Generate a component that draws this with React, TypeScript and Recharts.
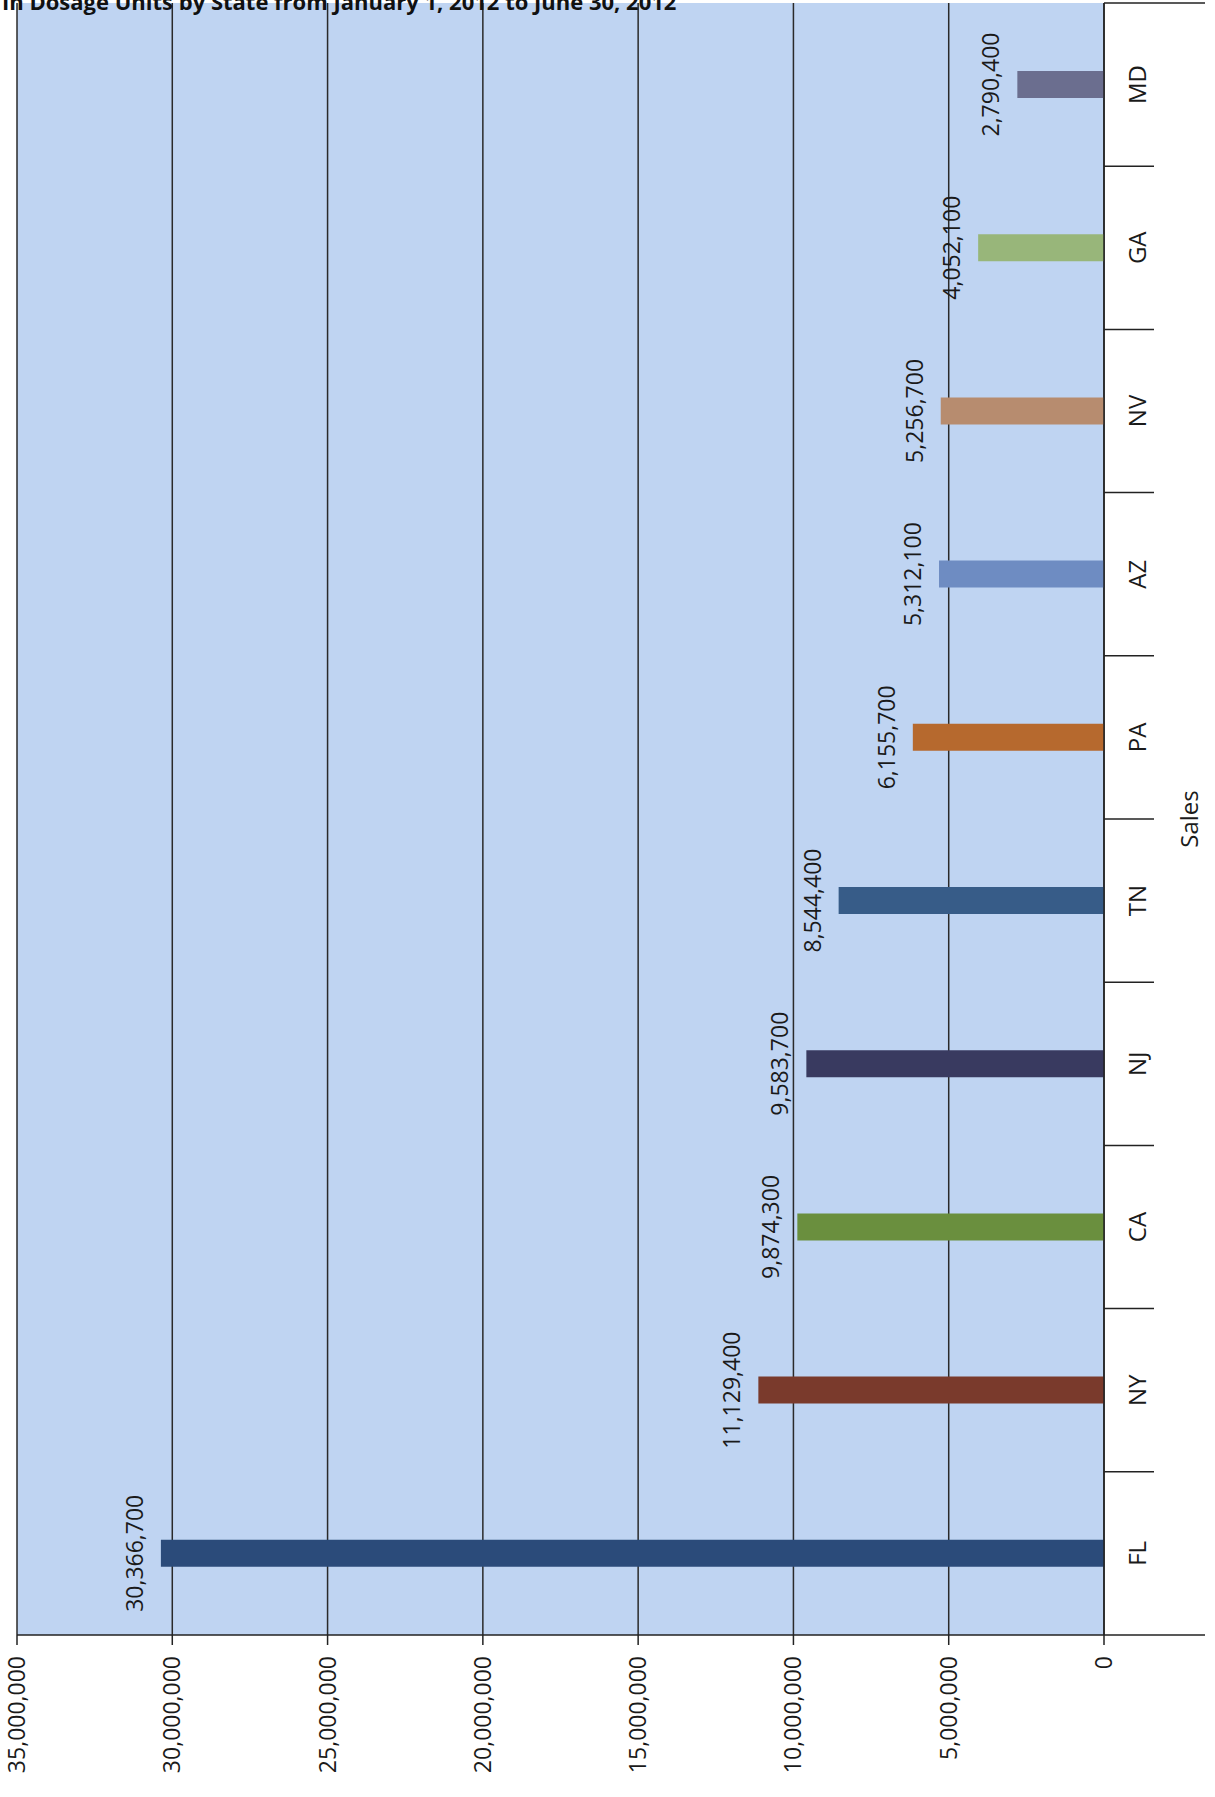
import React from 'react';
import { BarChart, Bar, XAxis, YAxis, CartesianGrid, Cell, LabelList, Label } from 'recharts';

// data (FL at the bottom, MD at the top)
const states = ['FL', 'NY', 'CA', 'NJ', 'TN', 'PA', 'AZ', 'NV', 'GA', 'MD'];
const units = [30366700, 11129400, 9874300, 9583700, 8544400, 6155700, 5312100, 5256700, 4052100, 2790400];
const barColors = ['#2b4b7a', '#7a3a2c', '#6a8f3e', '#393a60', '#375c88', '#b6692e', '#6e8cc2', '#b78c6f', '#98b67a', '#6b6e8f'];
const valueTicks = [0, 5000000, 10000000, 15000000, 20000000, 25000000, 30000000, 35000000];

const title = 'In Dosage Units by State from January 1, 2012 to June 30, 2012';
const axisTitle = 'Sales';

const W = 1215;
const H = 1797;
const PLOT_TOP = 3;
const PLOT_LEFT = 17;
const Y_AXIS_W = 111;
const X_AXIS_H = 162;
const AXIS_X = W - Y_AXIS_W;
const BAND = (H - X_AXIS_H - PLOT_TOP) / states.length;
const FONT = '"Open Sans", "DejaVu Sans", sans-serif';

const data = states.map((s, i) => ({ state: s, units: units[i] }));
const fmt = (v: number) => v.toLocaleString('en-US');

const ValueTick = (props: any) => {
  const { x, y, payload } = props;
  return (
    <g transform={`translate(${x},${y}) rotate(-90)`}>
      <text x={0} y={0} dy="0.35em" textAnchor="end" fontSize={23} fontFamily={FONT} fill="#1a1a1a">
        {fmt(payload.value)}
      </text>
    </g>
  );
};

const StateTick = (props: any) => {
  const { y, payload, index } = props;
  const isLast = index === states.length - 1;
  return (
    <g>
      <line x1={AXIS_X} x2={AXIS_X + (isLast ? 101 : 50)} y1={y - BAND / 2} y2={y - BAND / 2} stroke="#222" strokeWidth={1.5} />
      {index === 0 && (
        <line x1={AXIS_X} x2={AXIS_X + 101} y1={y + BAND / 2} y2={y + BAND / 2} stroke="#222" strokeWidth={1.5} />
      )}
      <g transform={`translate(${AXIS_X + 34},${y}) rotate(-90)`}>
        <text x={0} y={0} dy="0.35em" textAnchor="middle" fontSize={24} fontFamily={FONT} fill="#1a1a1a">
          {payload.value}
        </text>
      </g>
    </g>
  );
};

const ValueLabel = (props: any) => {
  const { x, y, width, height, value } = props;
  const left = Math.min(x, x + width);
  const cy = y + height / 2;
  return (
    <g transform={`translate(${left - 26},${cy}) rotate(-90)`}>
      <text x={0} y={0} dy="0.35em" textAnchor="middle" fontSize={23} fontFamily={FONT} fill="#1a1a1a">
        {fmt(value)}
      </text>
    </g>
  );
};

const SalesLabel = (props: any) => {
  const { viewBox } = props;
  const cy = viewBox.y + viewBox.height / 2;
  return (
    <g transform={`translate(${AXIS_X + 86},${cy}) rotate(-90)`}>
      <text x={0} y={0} dy="0.35em" textAnchor="middle" fontSize={24} fontFamily={FONT} fill="#1a1a1a">
        {axisTitle}
      </text>
    </g>
  );
};

export default function App() {
  return (
    <div style={{ position: 'absolute', left: 0, top: 0, width: W, height: H, background: '#fff', overflow: 'hidden' }}>
      <BarChart
        width={W}
        height={H}
        data={data}
        layout="vertical"
        margin={{ top: PLOT_TOP, right: 0, bottom: 0, left: PLOT_LEFT }}
        barCategoryGap={0}
      >
        <CartesianGrid horizontal={false} vertical stroke="#2a2a2a" strokeWidth={1.5} fill="#bfd4f2" fillOpacity={1} />
        <XAxis
          type="number"
          domain={[0, 35000000]}
          ticks={valueTicks}
          interval={0}
          reversed
          height={X_AXIS_H}
          tickSize={10}
          tickMargin={11}
          axisLine={{ stroke: '#222', strokeWidth: 1.5 }}
          tickLine={{ stroke: '#222', strokeWidth: 1.5 }}
          tick={<ValueTick />}
        />
        <YAxis
          type="category"
          dataKey="state"
          orientation="right"
          reversed
          width={Y_AXIS_W}
          interval={0}
          tickLine={false}
          axisLine={{ stroke: '#222', strokeWidth: 1.5 }}
          tick={<StateTick />}
        >
          <Label content={<SalesLabel />} />
        </YAxis>
        <Bar dataKey="units" barSize={27} isAnimationActive={false}>
          {data.map((_, i) => (
            <Cell key={i} fill={barColors[i]} />
          ))}
          <LabelList dataKey="units" content={<ValueLabel />} />
        </Bar>
      </BarChart>
      <div
        style={{
          position: 'absolute',
          left: 2,
          top: -14,
          fontFamily: '"Liberation Sans Narrow", "Open Sans", sans-serif',
          fontWeight: 'bold',
          fontSize: 22,
          color: '#111',
          whiteSpace: 'nowrap',
        }}
      >
        {title}
      </div>
    </div>
  );
}
